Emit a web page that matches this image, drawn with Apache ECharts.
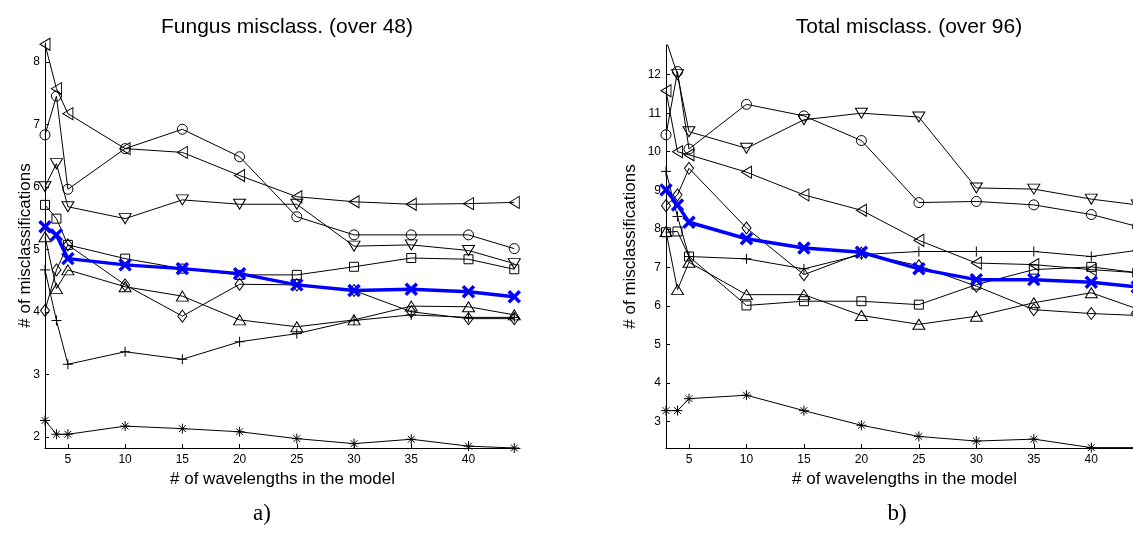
<!DOCTYPE html>
<html>
<head>
<meta charset="utf-8">
<script src="https://cdn.jsdelivr.net/npm/echarts@6/dist/echarts.min.js"></script>
<style>
  html, body { margin: 0; padding: 0; background: #fff; }
  #main { width: 1133px; height: 537px; }
</style>
</head>
<body>
<div id="main"></div>
<script>
// number of wavelengths
const xVals = [3, 4, 5, 10, 15, 20, 25, 30, 35, 40, 44];
const xTicks = [5, 10, 15, 20, 25, 30, 35, 40];

// a) fungus misclassifications (over 48)
const circleA  = [6.83, 7.45, 5.96, 6.61, 6.92, 6.48, 5.52, 5.23, 5.23, 5.23, 5.01];
const leftTriA = [8.28, 7.57, 7.17, 6.61, 6.55, 6.18, 5.84, 5.76, 5.72, 5.73, 5.75];
const downTriA = [6.00, 6.37, 5.68, 5.49, 5.79, 5.72, 5.72, 5.05, 5.07, 4.98, 4.77];
const squareA  = [5.71, 5.49, 5.07, 4.85, 4.69, 4.59, 4.59, 4.72, 4.86, 4.84, 4.68];
const diamondA = [4.02, 4.67, 5.07, 4.43, 3.93, 4.44, 4.43, 4.34, 4.00, 3.89, 3.89];
const upTriA   = [5.20, 4.37, 4.67, 4.40, 4.25, 3.87, 3.76, 3.87, 4.09, 4.08, 3.95];
const plusA    = [4.67, 3.86, 3.16, 3.36, 3.24, 3.52, 3.65, 3.86, 3.95, 3.91, 3.91];
const starA    = [2.26, 2.04, 2.04, 2.17, 2.13, 2.08, 1.97, 1.89, 1.96, 1.85, 1.82];
const meanA    = [5.36, 5.23, 4.85, 4.75, 4.69, 4.61, 4.43, 4.34, 4.36, 4.32, 4.24];
const yTicksA  = [2, 3, 4, 5, 6, 7, 8];

// b) total misclassifications (over 96)
const circleB  = [10.44, 12.08, 10.07, 11.23, 10.93, 10.29, 8.68, 8.71, 8.62, 8.37, 8.06];
const leftTriB = [11.58, 10.00, 9.92, 9.47, 8.88, 8.48, 7.70, 7.11, 7.07, 6.94, 6.86];
const downTriB = [12.90, 12.00, 10.52, 10.09, 10.83, 11.00, 10.90, 9.06, 9.03, 8.77, 8.62];
const squareB  = [7.91, 7.93, 7.28, 6.01, 6.12, 6.12, 6.03, 6.55, 6.94, 7.01, 6.86];
const diamondB = [8.60, 8.88, 9.57, 8.02, 6.81, 7.37, 7.04, 6.51, 5.90, 5.80, 5.75];
const upTriB   = [7.93, 6.42, 7.13, 6.29, 6.29, 5.75, 5.52, 5.73, 6.08, 6.34, 5.92];
const plusB    = [9.49, 8.32, 7.28, 7.22, 6.96, 7.33, 7.41, 7.41, 7.41, 7.28, 7.44];
const starB    = [3.28, 3.28, 3.59, 3.68, 3.28, 2.90, 2.61, 2.49, 2.54, 2.32, 2.32];
const meanB    = [9.01, 8.62, 8.17, 7.74, 7.50, 7.39, 6.96, 6.68, 6.68, 6.61, 6.49];
const yTicksB  = [3, 4, 5, 6, 7, 8, 9, 10, 11, 12];

const SYM = {
  circle: 'circle',
  leftTri: 'path://M10,0L0,5L10,10Z',
  downTri: 'path://M0,0L10,0L5,9Z',
  upTri: 'path://M5,0L10,9L0,9Z',
  square: 'rect',
  diamond: 'diamond',
  plus: 'path://M5,0L5,10M0,5L10,5',
  star: 'path://M5,0L5,10M0,5L10,5M1.6,1.6L8.4,8.4M8.4,1.6L1.6,8.4',
  cross: 'path://M0,0L10,10M10,0L0,10'
};
const SIZE = { circle: 10, leftTri: [10, 12], downTri: [12, 10], upTri: [12, 10], square: 9, diamond: [9, 12], plus: 10, star: 10 };

const font = '"Liberation Sans", Arial, Helvetica, sans-serif';

function pairs(ys) {
  return xVals.map((x, i) => [x, ys[i]]);
}

function blackLine(ys, key, g) {
  return {
    type: 'line',
    xAxisIndex: g, yAxisIndex: g,
    data: pairs(ys),
    symbol: SYM[key],
    symbolSize: SIZE[key],
    showSymbol: true,
    lineStyle: { color: '#000', width: 1 },
    itemStyle: { color: 'rgba(0,0,0,0)', borderColor: '#000', borderWidth: 1 },
    emphasis: { disabled: true },
    clip: true
  };
}

function meanLine(ys, g) {
  return {
    type: 'line',
    xAxisIndex: g, yAxisIndex: g,
    data: pairs(ys),
    symbol: SYM.cross,
    symbolSize: 11,
    lineStyle: { color: '#0000ff', width: 3.5 },
    itemStyle: { color: 'rgba(0,0,0,0)', borderColor: '#0000ff', borderWidth: 3.5 },
    emphasis: { disabled: true },
    z: 5
  };
}

function xAxis(g) {
  return {
    type: 'value', gridIndex: g, min: 3, max: 44.5,
    name: '# of wavelengths in the model',
    nameLocation: 'middle', nameGap: 21,
    nameTextStyle: { fontFamily: font, fontSize: 17, color: '#000' },
    axisLine: { lineStyle: { color: '#000', width: 1 } },
    axisTick: { inside: true, length: 4, customValues: xTicks, lineStyle: { color: '#000' } },
    axisLabel: { customValues: xTicks, fontFamily: font, fontSize: 12, color: '#000', margin: 6 },
    splitLine: { show: false }
  };
}

function yAxis(g, min, max, ticks, gap) {
  return {
    type: 'value', gridIndex: g, min: min, max: max,
    name: '# of misclassifications',
    nameLocation: 'middle', nameGap: gap, nameMoveOverlap: false,
    nameTextStyle: { fontFamily: font, fontSize: 17, color: '#000' },
    axisLine: { show: true, lineStyle: { color: '#000', width: 1 } },
    axisTick: { show: true, inside: true, length: 4, customValues: ticks, lineStyle: { color: '#000' } },
    axisLabel: { customValues: ticks, fontFamily: font, fontSize: 12, color: '#000', margin: 5 },
    splitLine: { show: false }
  };
}

const chart = echarts.init(document.getElementById('main'));

const option = {
  animation: false,
  backgroundColor: '#fff',
  title: [
    { text: 'Fungus misclass. (over 48)', left: 282, top: 12, textAlign: 'center',
      textStyle: { fontFamily: font, fontSize: 21, fontWeight: 'normal', color: '#000' } },
    { text: 'Total misclass. (over 96)', left: 904, top: 12, textAlign: 'center',
      textStyle: { fontFamily: font, fontSize: 21, fontWeight: 'normal', color: '#000' } },
    { text: 'a)', left: 257, top: 497, textAlign: 'center',
      textStyle: { fontFamily: '"Liberation Serif", "Times New Roman", serif', fontSize: 23, fontWeight: 'normal', color: '#000' } },
    { text: 'b)', left: 892, top: 497, textAlign: 'center',
      textStyle: { fontFamily: '"Liberation Serif", "Times New Roman", serif', fontSize: 23, fontWeight: 'normal', color: '#000' } }
  ],
  grid: [
    { left: 45, top: 43, width: 475, height: 405, containLabel: false, outerBoundsMode: 'none' },
    { left: 666, top: 45, width: 477, height: 403, containLabel: false, outerBoundsMode: 'none' }
  ],
  xAxis: [xAxis(0), xAxis(1)],
  yAxis: [yAxis(0, 1.82, 8.3, yTicksA, 11), yAxis(1, 2.31, 12.77, yTicksB, 27)],
  series: [
    blackLine(circleA, 'circle', 0),
    blackLine(leftTriA, 'leftTri', 0),
    blackLine(downTriA, 'downTri', 0),
    blackLine(squareA, 'square', 0),
    blackLine(diamondA, 'diamond', 0),
    blackLine(upTriA, 'upTri', 0),
    blackLine(plusA, 'plus', 0),
    blackLine(starA, 'star', 0),
    meanLine(meanA, 0),
    blackLine(circleB, 'circle', 1),
    blackLine(leftTriB, 'leftTri', 1),
    blackLine(downTriB, 'downTri', 1),
    blackLine(squareB, 'square', 1),
    blackLine(diamondB, 'diamond', 1),
    blackLine(upTriB, 'upTri', 1),
    blackLine(plusB, 'plus', 1),
    blackLine(starB, 'star', 1),
    meanLine(meanB, 1)
  ]
};

chart.setOption(option);
</script>
</body>
</html>
